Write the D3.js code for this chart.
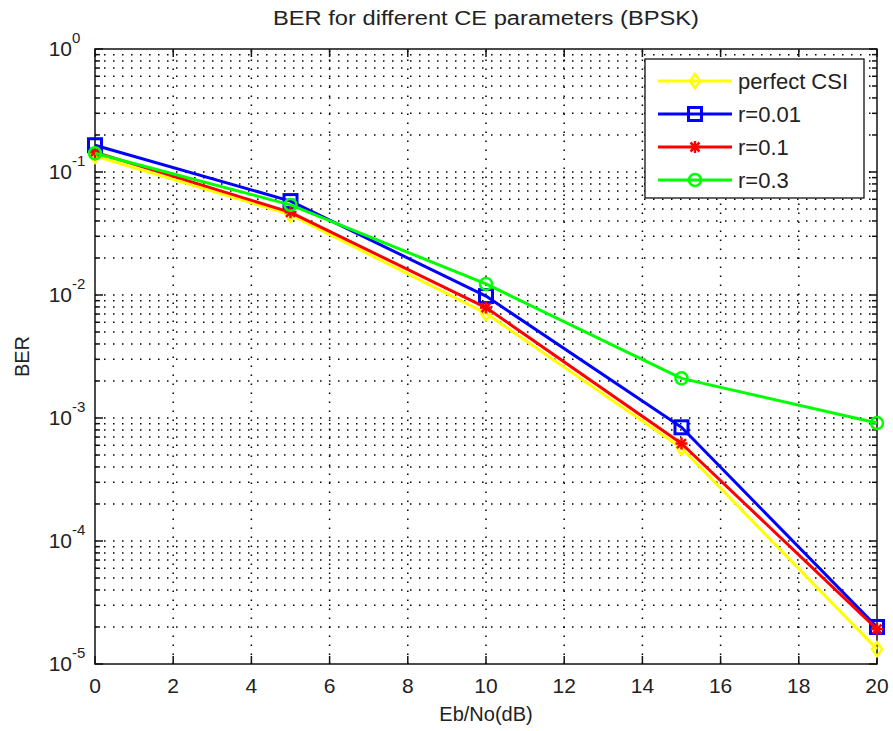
<!DOCTYPE html>
<html>
<head>
<meta charset="utf-8">
<script src="https://cdn.jsdelivr.net/npm/d3@7"></script>
<style>
  html, body { margin: 0; padding: 0; background: #fff; }
  svg text { font-family: "Liberation Sans", Arial, Helvetica, sans-serif; fill: #222; }
</style>
</head>
<body>
<svg id="chart" width="893" height="731"></svg>
<script>
// Eb/No points (dB)
const ebno = [0, 5, 10, 15, 20];

// BER curves for each channel-estimation setting
const berPerfect = [0.135, 0.045, 0.0071, 0.00057, 0.0000132];
const berR001    = [0.165, 0.058, 0.0098, 0.00084, 0.0000200];
const berR01     = [0.145, 0.047, 0.0079, 0.00062, 0.0000192];
const berR03     = [0.142, 0.054, 0.0123, 0.00210, 0.00091];

const seriesNames = ["perfect CSI", "r=0.01", "r=0.1", "r=0.3"];
const seriesColors = ["#ffff00", "#0000ff", "#ff0000", "#00ff00"];
const seriesMarkers = ["diamond", "square", "star", "circle"];
const seriesData = [berPerfect, berR001, berR01, berR03];

const xTicks = [0, 2, 4, 6, 8, 10, 12, 14, 16, 18, 20];
const yExponents = [0, -1, -2, -3, -4, -5];

const titleText = "BER for different CE parameters (BPSK)";
const xLabel = "Eb/No(dB)";
const yLabel = "BER";

const svg = d3.select("#chart");
const margin = { left: 95, right: 16, top: 49, bottom: 67 };
const W = 893, H = 731;
const x0 = margin.left, x1 = W - margin.right;
const y0 = margin.top, y1 = H - margin.bottom;

const x = d3.scaleLinear().domain([0, 20]).range([x0, x1]);
const y = d3.scaleLog().domain([1e-5, 1]).range([y1, y0]);

// minor log levels for grid and ticks
const minorVals = [];
for (let e = -5; e < 0; e++) {
  for (let m = 2; m <= 9; m++) minorVals.push(m * Math.pow(10, e));
}
const majorVals = yExponents.map(e => Math.pow(10, e));

const grid = svg.append("g").attr("stroke", "#000").attr("stroke-width", 1.5)
  .attr("stroke-dasharray", "1.5,7.5").attr("fill", "none");

// vertical dotted grid
grid.selectAll("line.vx").data(xTicks.filter(t => t > 0 && t < 20)).join("line")
  .attr("x1", d => x(d)).attr("x2", d => x(d)).attr("y1", y1).attr("y2", y0);

// horizontal dotted grid, majors and minors
grid.selectAll("line.hy").data(minorVals.concat(majorVals.filter(v => v > 1e-5 && v < 1))).join("line")
  .attr("x1", x0).attr("x2", x1).attr("y1", d => y(d)).attr("y2", d => y(d));

// axis box
svg.append("rect").attr("x", x0).attr("y", y0).attr("width", x1 - x0).attr("height", y1 - y0)
  .attr("fill", "none").attr("stroke", "#111").attr("stroke-width", 1.5);

// ticks drawn inward on all four sides
const ticks = svg.append("g").attr("stroke", "#111").attr("stroke-width", 1.5);
xTicks.forEach(t => {
  ticks.append("line").attr("x1", x(t)).attr("x2", x(t)).attr("y1", y1).attr("y2", y1 - 8);
  ticks.append("line").attr("x1", x(t)).attr("x2", x(t)).attr("y1", y0).attr("y2", y0 + 8);
});
majorVals.forEach(v => {
  ticks.append("line").attr("x1", x0).attr("x2", x0 + 8).attr("y1", y(v)).attr("y2", y(v));
  ticks.append("line").attr("x1", x1).attr("x2", x1 - 8).attr("y1", y(v)).attr("y2", y(v));
});
minorVals.forEach(v => {
  ticks.append("line").attr("x1", x0).attr("x2", x0 + 5).attr("y1", y(v)).attr("y2", y(v));
  ticks.append("line").attr("x1", x1).attr("x2", x1 - 5).attr("y1", y(v)).attr("y2", y(v));
});

// x tick labels
svg.append("g").selectAll("text").data(xTicks).join("text")
  .attr("x", d => x(d)).attr("y", y1 + 29)
  .attr("text-anchor", "middle").attr("font-size", 21)
  .text(d => d);

// y tick labels as 10^e
const yl = svg.append("g");
yExponents.forEach(e => {
  const t = yl.append("text").attr("x", x0 - 23).attr("y", y(Math.pow(10, e)) + 7)
    .attr("text-anchor", "end").attr("font-size", 21);
  t.text("10");
  yl.append("text").attr("x", x0 - 23).attr("y", y(Math.pow(10, e)) - 6)
    .attr("text-anchor", "start").attr("font-size", 15)
    .text(e === 0 ? "0" : "-" + Math.abs(e));
});

// title and axis labels
svg.append("text").attr("x", (x0 + x1) / 2).attr("y", 25).attr("text-anchor", "middle")
  .attr("font-size", 20).attr("textLength", 426).attr("lengthAdjust", "spacingAndGlyphs")
  .text(titleText);
svg.append("text").attr("x", (x0 + x1) / 2).attr("y", 721).attr("text-anchor", "middle")
  .attr("font-size", 20).text(xLabel);
svg.append("text").attr("transform", `translate(29, ${(y0 + y1) / 2}) rotate(-90)`)
  .attr("text-anchor", "middle").attr("font-size", 20).text(yLabel);

// marker shapes
function drawMarker(g, type, cx, cy, color) {
  if (type === "diamond") {
    g.append("path").attr("d", `M${cx},${cy - 7}L${cx + 5},${cy}L${cx},${cy + 7}L${cx - 5},${cy}Z`)
      .attr("fill", "none").attr("stroke", color).attr("stroke-width", 2.5);
  } else if (type === "square") {
    g.append("rect").attr("x", cx - 6.5).attr("y", cy - 6.5).attr("width", 13).attr("height", 13)
      .attr("fill", "none").attr("stroke", color).attr("stroke-width", 3);
  } else if (type === "circle") {
    g.append("circle").attr("cx", cx).attr("cy", cy).attr("r", 6)
      .attr("fill", "none").attr("stroke", color).attr("stroke-width", 2.5);
  } else if (type === "star") {
    const r = 6;
    const p = [
      [cx - r, cy, cx + r, cy], [cx, cy - r, cx, cy + r],
      [cx - r * 0.75, cy - r * 0.75, cx + r * 0.75, cy + r * 0.75],
      [cx - r * 0.75, cy + r * 0.75, cx + r * 0.75, cy - r * 0.75]
    ];
    p.forEach(q => g.append("line").attr("x1", q[0]).attr("y1", q[1]).attr("x2", q[2]).attr("y2", q[3])
      .attr("stroke", color).attr("stroke-width", 2.5));
  }
}

// curves
const line = d3.line().x((d, i) => x(ebno[i])).y(d => y(d));
const plot = svg.append("g");
seriesData.forEach((vals, k) => {
  const g = plot.append("g");
  g.append("path").datum(vals).attr("d", line)
    .attr("fill", "none").attr("stroke", seriesColors[k]).attr("stroke-width", 3)
    .attr("stroke-linejoin", "round");
  vals.forEach((v, i) => drawMarker(g, seriesMarkers[k], x(ebno[i]), y(v), seriesColors[k]));
});

// legend
const lg = svg.append("g");
const lx = 645, ly = 59, lw = 219, lh = 139;
lg.append("rect").attr("x", lx).attr("y", ly).attr("width", lw).attr("height", lh)
  .attr("fill", "#fff").attr("stroke", "#111").attr("stroke-width", 1.3);
seriesNames.forEach((name, k) => {
  const cy = ly + 22 + k * 33;
  lg.append("line").attr("x1", lx + 13).attr("x2", lx + 87).attr("y1", cy).attr("y2", cy)
    .attr("stroke", seriesColors[k]).attr("stroke-width", 3);
  drawMarker(lg, seriesMarkers[k], lx + 50, cy, seriesColors[k]);
  lg.append("text").attr("x", lx + 93).attr("y", cy + 8).attr("font-size", 22).text(name);
});
</script>
</body>
</html>
